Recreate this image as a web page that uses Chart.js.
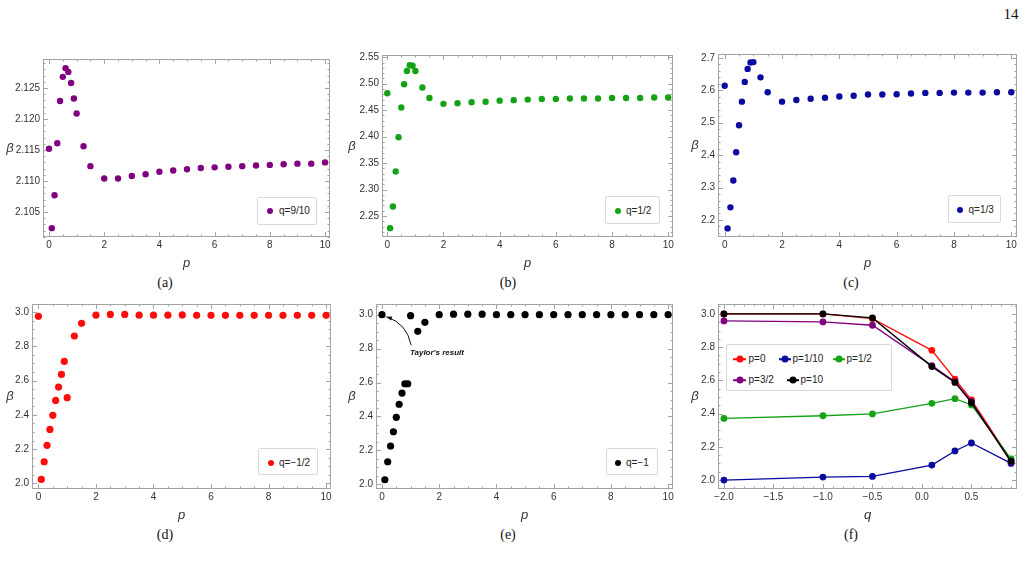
<!DOCTYPE html>
<html>
<head>
<meta charset="utf-8">
<script src="https://cdn.jsdelivr.net/npm/chart.js@4.4.1/dist/chart.umd.min.js"></script>
<style>
  body { margin: 0; width: 1026px; height: 576px; background: #fff; position: relative; overflow: hidden; font-family: "Liberation Sans", Arial, sans-serif; }
  canvas { position: absolute; }
  .cap { position: absolute; font-family: "Liberation Serif", "Times New Roman", serif; font-size: 14px; color: #111; transform: translate(-50%, -50%); }
  .pagenum { position: absolute; left: 1011px; top: 14px; font-family: "Liberation Serif", serif; font-size: 15px; color: #111; transform: translate(-50%, -50%); }
  .leg { position: absolute; border: 1px solid #d9d9d9; border-radius: 2px; background: #fff; box-sizing: border-box; }
  .item { position: absolute; font-size: 10px; color: #222; line-height: 12px; transform: translateY(-50%); white-space: nowrap; }
  .dot { position: absolute; border-radius: 50%; transform: translate(-50%, -50%); }
  .ln { position: absolute; height: 1.5px; transform: translateY(-50%); }
</style>
</head>
<body>
<div class="pagenum">14</div>

<script>
// p values used in panels (a)-(e)
const pVals = [0, 0.1, 0.2, 0.3, 0.4, 0.5, 0.6, 0.7, 0.8, 0.9, 1, 1.25, 1.5, 2, 2.5, 3, 3.5, 4, 4.5, 5, 5.5, 6, 6.5, 7, 7.5, 8, 8.5, 9, 9.5, 10];

// beta vs p for each q
const betaQ910 = [2.1152, 2.1024, 2.1077, 2.1161, 2.1229, 2.1268, 2.1282, 2.1276, 2.1258, 2.1233, 2.1209, 2.1156, 2.1124, 2.1104, 2.1104, 2.1108, 2.1111, 2.1115, 2.1117, 2.1119, 2.1121, 2.1122, 2.1123, 2.1124, 2.1125, 2.1126, 2.1127, 2.1128, 2.1128, 2.1130];
const betaQ12 = [2.482, 2.227, 2.268, 2.334, 2.399, 2.455, 2.499, 2.524, 2.535, 2.534, 2.524, 2.493, 2.473, 2.462, 2.463, 2.465, 2.466, 2.468, 2.469, 2.470, 2.471, 2.471, 2.472, 2.472, 2.472, 2.473, 2.473, 2.473, 2.474, 2.474];
const betaQ13 = [2.614, 2.174, 2.239, 2.322, 2.409, 2.492, 2.565, 2.626, 2.666, 2.686, 2.687, 2.640, 2.594, 2.565, 2.570, 2.574, 2.577, 2.581, 2.583, 2.587, 2.587, 2.588, 2.590, 2.592, 2.592, 2.593, 2.593, 2.593, 2.594, 2.594];
const betaQm12 = [2.975, 2.023, 2.126, 2.222, 2.315, 2.397, 2.484, 2.562, 2.636, 2.712, 2.500, 2.860, 2.934, 2.982, 2.986, 2.986, 2.982, 2.982, 2.982, 2.983, 2.981, 2.981, 2.981, 2.981, 2.981, 2.981, 2.981, 2.981, 2.981, 2.981];
const betaQm1 = [3.000, 2.027, 2.133, 2.226, 2.310, 2.395, 2.472, 2.538, 2.593, 2.593, 2.994, 2.902, 2.955, 3.000, 3.003, 3.003, 3.003, 3.000, 3.000, 3.000, 3.000, 3.000, 3.000, 3.000, 3.000, 3.000, 3.000, 3.000, 3.000, 3.000];

// panel (f): beta vs q for each p
const qVals = [-2, -1, -0.5, 0.1, 1 / 3, 0.5, 0.9];
const betaP0 = [3.000, 3.000, 2.972, 2.781, 2.607, 2.482, 2.118];
const betaP110 = [2.000, 2.018, 2.022, 2.090, 2.175, 2.223, 2.100];
const betaP12 = [2.371, 2.387, 2.398, 2.462, 2.490, 2.452, 2.127];
const betaP32 = [2.958, 2.952, 2.932, 2.689, 2.592, 2.472, 2.108];
const betaP10 = [3.000, 3.000, 2.976, 2.683, 2.588, 2.466, 2.113];

// tick labels
const pTicks = [0, 2, 4, 6, 8, 10];
const qTicks = [-2, -1.5, -1, -0.5, 0, 0.5];
const yTicksA = [2.105, 2.110, 2.115, 2.120, 2.125];
const yTicksB = [2.25, 2.30, 2.35, 2.40, 2.45, 2.50, 2.55];
const yTicksC = [2.2, 2.3, 2.4, 2.5, 2.6, 2.7];
const yTicksD = [2.0, 2.2, 2.4, 2.6, 2.8, 3.0];

const noteText = "Taylor's result";
const notePos = [1.92, 2.776];
const noteArrow = [[1.02, 2.82], [0.87, 2.949], [0.15, 2.988]];

const PURPLE = '#800080', GREEN = '#15a315', BLUE = '#0a0a9e', RED = '#ff0d0d', BLACK = '#000000';

function fmt(v, d) {
  return (v < 0 ? '\u2212' : '') + Math.abs(v).toFixed(d);
}

// Mathematica style frame with inward ticks
const framePlugin = {
  id: 'frame',
  beforeDatasetsDraw(chart, args, opts) {
    const {ctx, chartArea: a, scales: {x, y}} = chart;
    ctx.save();
    ctx.strokeStyle = '#a3a3a3';
    ctx.lineWidth = 1;
    ctx.strokeRect(a.left + 0.5, a.top + 0.5, a.right - a.left - 1, a.bottom - a.top - 1);
    ctx.beginPath();
    const minorX = [], minorY = [];
    for (let v = Math.ceil(x.min / opts.xMinor) * opts.xMinor; v <= x.max; v += opts.xMinor) minorX.push(v);
    for (let v = Math.ceil(y.min / opts.yMinor) * opts.yMinor; v <= y.max; v += opts.yMinor) minorY.push(v);
    minorX.forEach(v => {
      const px = Math.round(x.getPixelForValue(v)) + 0.5;
      ctx.moveTo(px, a.bottom); ctx.lineTo(px, a.bottom - 2.5);
      ctx.moveTo(px, a.top); ctx.lineTo(px, a.top + 2.5);
    });
    minorY.forEach(v => {
      const py = Math.round(y.getPixelForValue(v)) + 0.5;
      ctx.moveTo(a.left, py); ctx.lineTo(a.left + 2.5, py);
      ctx.moveTo(a.right, py); ctx.lineTo(a.right - 2.5, py);
    });
    x.ticks.forEach(t => {
      const px = Math.round(x.getPixelForValue(t.value)) + 0.5;
      ctx.moveTo(px, a.bottom); ctx.lineTo(px, a.bottom - 5);
      ctx.moveTo(px, a.top); ctx.lineTo(px, a.top + 5);
    });
    y.ticks.forEach(t => {
      const py = Math.round(y.getPixelForValue(t.value)) + 0.5;
      ctx.moveTo(a.left, py); ctx.lineTo(a.left + 5, py);
      ctx.moveTo(a.right, py); ctx.lineTo(a.right - 5, py);
    });
    ctx.stroke();
    ctx.restore();
  },
  afterDraw(chart, args, opts) {
    const {ctx, chartArea: a} = chart;
    ctx.save();
    ctx.font = 'italic 13px "Liberation Sans", Arial, sans-serif';
    ctx.fillStyle = '#333';
    ctx.textAlign = 'center';
    ctx.textBaseline = 'middle';
    ctx.fillText('\u03b2', a.left - opts.betaOff, (a.top + a.bottom) / 2);
    ctx.restore();
  }
};

const taylorNote = {
  id: 'taylor',
  afterDatasetsDraw(chart) {
    const {ctx, scales: {x, y}} = chart;
    const P = p => [x.getPixelForValue(p[0]), y.getPixelForValue(p[1])];
    const [s, c, e] = noteArrow.map(P);
    ctx.save();
    ctx.strokeStyle = '#111';
    ctx.fillStyle = '#111';
    ctx.lineWidth = 1;
    ctx.beginPath();
    ctx.moveTo(s[0], s[1]);
    ctx.quadraticCurveTo(c[0], c[1], e[0], e[1]);
    ctx.stroke();
    const ang = Math.atan2(e[1] - c[1], e[0] - c[0]);
    ctx.beginPath();
    ctx.moveTo(e[0], e[1]);
    ctx.lineTo(e[0] - 6 * Math.cos(ang - 0.35), e[1] - 6 * Math.sin(ang - 0.35));
    ctx.lineTo(e[0] - 6 * Math.cos(ang + 0.35), e[1] - 6 * Math.sin(ang + 0.35));
    ctx.closePath();
    ctx.fill();
    const t = P(notePos);
    ctx.font = 'italic bold 8px "Liberation Sans", Arial, sans-serif';
    ctx.textAlign = 'center';
    ctx.textBaseline = 'middle';
    ctx.fillText(noteText, t[0], t[1]);
    ctx.restore();
  }
};

const panels = [
  { cap: '(a)', capPos: [165, 283], plot: [43, 59, 330, 237], x: [-0.218, 10.18], y: [2.10097, 2.12968],
    xTicks: pTicks, yTicks: yTicksA, xDec: 0, yDec: 3, xMinor: 0.5, yMinor: 0.001, xTitle: 'p', betaOff: 33, W: 42,
    series: [{ label: 'q=9/10', xs: pVals, ys: betaQ910, color: PURPLE }], r: 3.2,
    legend: { box: [257, 197, 60, 28], items: [{ label: 'q=9/10', color: PURPLE, dot: [269.5, 211], text: [279, 211] }] } },
  { cap: '(b)', capPos: [508, 283], plot: [382, 55, 673, 237], x: [-0.188, 10.17], y: [2.2103, 2.5543],
    xTicks: pTicks, yTicks: yTicksB, xDec: 0, yDec: 2, xMinor: 0.5, yMinor: 0.01, xTitle: 'p', betaOff: 30, W: 40,
    series: [{ label: 'q=1/2', xs: pVals, ys: betaQ12, color: GREEN }], r: 3.2,
    legend: { box: [605, 196, 55, 28], items: [{ label: 'q=1/2', color: GREEN, dot: [617.5, 210.5], text: [626, 210.5] }] } },
  { cap: '(c)', capPos: [851, 283], plot: [718, 54, 1017, 237], x: [-0.234, 10.2], y: [2.1475, 2.712],
    xTicks: pTicks, yTicks: yTicksC, xDec: 0, yDec: 1, xMinor: 0.5, yMinor: 0.02, xTitle: 'p', betaOff: 23, W: 34,
    series: [{ label: 'q=1/3', xs: pVals, ys: betaQ13, color: BLUE }], r: 3.2,
    legend: { box: [948, 195, 53, 28], items: [{ label: 'q=1/3', color: BLUE, dot: [960, 210], text: [968.5, 210] }] } },
  { cap: '(d)', capPos: [165, 535], plot: [32, 304, 331, 489], x: [-0.223, 10.17], y: [1.967, 3.047],
    xTicks: pTicks, yTicks: yTicksD, xDec: 0, yDec: 1, xMinor: 0.5, yMinor: 0.05, xTitle: 'p', betaOff: 22, W: 31,
    series: [{ label: 'q=\u22121/2', xs: pVals, ys: betaQm12, color: RED }], r: 3.6,
    legend: { box: [258, 448, 60, 27], items: [{ label: 'q=\u22121/2', color: RED, dot: [270.5, 462.5], text: [279, 462.5] }] } },
  { cap: '(e)', capPos: [508, 535], plot: [376, 304, 673, 489], x: [-0.209, 10.17], y: [1.9725, 3.063],
    xTicks: pTicks, yTicks: yTicksD, xDec: 0, yDec: 1, xMinor: 0.5, yMinor: 0.05, xTitle: 'p', betaOff: 24, W: 34,
    series: [{ label: 'q=\u22121', xs: pVals, ys: betaQm1, color: BLACK }], r: 3.6, note: true,
    legend: { box: [606, 448, 52, 27], items: [{ label: 'q=\u22121', color: BLACK, dot: [617.5, 462.5], text: [626, 462.5] }] } },
  { cap: '(f)', capPos: [851, 535], plot: [718, 304, 1017, 489], x: [-2.06, 0.96], y: [1.946, 3.06],
    xTicks: qTicks, yTicks: yTicksD, xDec: 1, yDec: 1, xMinor: 0.1, yMinor: 0.05, xTitle: 'q', betaOff: 23, W: 34,
    lines: true, r: 3.4,
    series: [
      { label: 'p=0', xs: qVals, ys: betaP0, color: RED, order: 4 },
      { label: 'p=1/10', xs: qVals, ys: betaP110, color: BLUE, order: 3 },
      { label: 'p=1/2', xs: qVals, ys: betaP12, color: GREEN, order: 2 },
      { label: 'p=3/2', xs: qVals, ys: betaP32, color: PURPLE, order: 1 },
      { label: 'p=10', xs: qVals, ys: betaP10, color: BLACK, order: 0 }
    ],
    legend: { box: [726, 344, 166, 47], items: [
      { label: 'p=0', color: RED, line: [733, 746], dot: [739.5, 359], text: [748.5, 359] },
      { label: 'p=1/10', color: BLUE, line: [779, 791], dot: [785, 359], text: [792.5, 359] },
      { label: 'p=1/2', color: GREEN, line: [833, 845], dot: [839, 359], text: [846.5, 359] },
      { label: 'p=3/2', color: PURPLE, line: [733, 746], dot: [739.5, 380], text: [748.5, 380] },
      { label: 'p=10', color: BLACK, line: [787, 799], dot: [793, 380], text: [800.5, 380] }
    ] } }
];

const T = 6, R = 6, H = 34;

panels.forEach(pn => {
  const [pl, pt, pr, pb] = pn.plot;
  const canvas = document.createElement('canvas');
  const cw = pr - pl + pn.W + R, ch = pb - pt + T + H;
  canvas.width = cw; canvas.height = ch;
  canvas.style.left = (pl - pn.W) + 'px';
  canvas.style.top = (pt - T) + 'px';
  canvas.style.width = cw + 'px';
  canvas.style.height = ch + 'px';
  document.body.appendChild(canvas);

  const tickFont = { family: '"Liberation Sans", Arial, sans-serif', size: 10 };
  const zeroPad = s => { s.paddingLeft = 0; s.paddingRight = 0; s.paddingTop = 0; s.paddingBottom = 0; };

  new Chart(canvas, {
    type: 'scatter',
    data: {
      datasets: pn.series.map(s => ({
        label: s.label,
        data: s.xs.map((v, i) => ({ x: v, y: s.ys[i] })),
        showLine: !!pn.lines,
        borderColor: s.color,
        backgroundColor: s.color,
        borderWidth: pn.lines ? 1.3 : 0,
        pointRadius: pn.r,
        pointBorderWidth: 0,
        pointBackgroundColor: s.color,
        order: s.order || 0,
        clip: false
      }))
    },
    options: {
      responsive: false,
      animation: false,
      layout: { padding: { top: T, right: R, left: 0, bottom: 0 } },
      plugins: {
        legend: { display: false },
        tooltip: { enabled: false },
        frame: { xMinor: pn.xMinor, yMinor: pn.yMinor, betaOff: pn.betaOff }
      },
      scales: {
        x: {
          type: 'linear',
          min: pn.x[0], max: pn.x[1],
          afterBuildTicks: s => { s.ticks = pn.xTicks.map(v => ({ value: v })); },
          afterFit: s => { s.height = H; zeroPad(s); },
          grid: { display: false, drawTicks: false },
          border: { display: false },
          ticks: { font: tickFont, color: '#333', padding: 2, maxRotation: 0, autoSkip: false,
                   callback: v => fmt(v, pn.xDec) },
          title: { display: true, text: pn.xTitle, color: '#333', padding: 0,
                   font: { family: '"Liberation Sans", Arial, sans-serif', size: 13, style: 'italic' } }
        },
        y: {
          type: 'linear',
          min: pn.y[0], max: pn.y[1],
          afterBuildTicks: s => { s.ticks = pn.yTicks.map(v => ({ value: v })); },
          afterFit: s => { s.width = pn.W; zeroPad(s); },
          grid: { display: false, drawTicks: false },
          border: { display: false },
          ticks: { font: tickFont, color: '#333', padding: 3, autoSkip: false,
                   callback: v => fmt(v, pn.yDec) }
        }
      }
    },
    plugins: pn.note ? [framePlugin, taylorNote] : [framePlugin]
  });

  // caption
  const cap = document.createElement('div');
  cap.className = 'cap';
  cap.textContent = pn.cap;
  cap.style.left = pn.capPos[0] + 'px';
  cap.style.top = pn.capPos[1] + 'px';
  document.body.appendChild(cap);

  // legend box
  const lg = pn.legend;
  const box = document.createElement('div');
  box.className = 'leg';
  box.style.left = lg.box[0] + 'px'; box.style.top = lg.box[1] + 'px';
  box.style.width = lg.box[2] + 'px'; box.style.height = lg.box[3] + 'px';
  document.body.appendChild(box);
  lg.items.forEach(it => {
    if (it.line) {
      const ln = document.createElement('div');
      ln.className = 'ln';
      ln.style.left = it.line[0] + 'px'; ln.style.top = it.dot[1] + 'px';
      ln.style.width = (it.line[1] - it.line[0]) + 'px';
      ln.style.background = it.color;
      document.body.appendChild(ln);
    }
    const d = document.createElement('div');
    d.className = 'dot';
    const sz = it.line ? 7 : 6;
    d.style.width = sz + 'px'; d.style.height = sz + 'px';
    d.style.left = it.dot[0] + 'px'; d.style.top = it.dot[1] + 'px';
    d.style.background = it.color;
    document.body.appendChild(d);
    const t = document.createElement('div');
    t.className = 'item';
    t.textContent = it.label;
    t.style.left = it.text[0] + 'px'; t.style.top = it.text[1] + 'px';
    document.body.appendChild(t);
  });
});
</script>
</body>
</html>
